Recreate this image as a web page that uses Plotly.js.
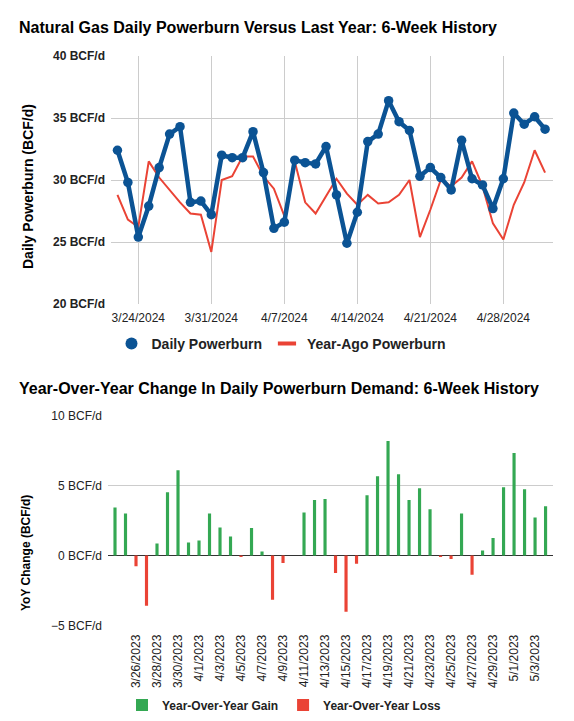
<!DOCTYPE html>
<html><head><meta charset="utf-8">
<script src="https://cdn.plot.ly/plotly-3.0.1.min.js"></script>
<style>html,body{margin:0;padding:0;background:#fff}#chart{width:574px;height:721px}</style>
</head><body><div id="chart"></div>
<script>
// ---- data ----
const dates2024 = ['2024-03-22','2024-03-23','2024-03-24','2024-03-25','2024-03-26','2024-03-27','2024-03-28','2024-03-29','2024-03-30','2024-03-31',
  '2024-04-01','2024-04-02','2024-04-03','2024-04-04','2024-04-05','2024-04-06','2024-04-07','2024-04-08','2024-04-09','2024-04-10',
  '2024-04-11','2024-04-12','2024-04-13','2024-04-14','2024-04-15','2024-04-16','2024-04-17','2024-04-18','2024-04-19','2024-04-20',
  '2024-04-21','2024-04-22','2024-04-23','2024-04-24','2024-04-25','2024-04-26','2024-04-27','2024-04-28','2024-04-29','2024-04-30',
  '2024-05-01','2024-05-02'];
const dailyPowerburn = [32.4, 29.8, 25.4, 27.9, 31.0, 33.7, 34.3, 28.2, 28.3, 27.2,
  32.0, 31.8, 31.8, 33.9, 30.6, 26.1, 26.6, 31.6, 31.4, 31.3,
  32.7, 28.8, 24.9, 27.4, 33.1, 33.7, 36.4, 34.7, 34.0, 30.3,
  31.0, 30.2, 29.2, 33.2, 30.1, 29.6, 27.7, 30.1, 35.4, 34.5,
  35.1, 34.1];
const yearAgoPowerburn = [28.8, 26.8, 26.2, 31.5, 30.2, 29.2, 28.2, 27.3, 27.2, 24.2,
  30.0, 30.3, 31.9, 31.9, 30.3, 29.3, 27.1, 31.5, 28.2, 27.3,
  28.7, 30.1, 28.9, 28.0, 28.8, 28.1, 28.2, 28.8, 30.0, 25.4,
  27.6, 30.0, 29.5, 30.2, 31.5, 29.5, 26.5, 25.2, 28.0, 29.8,
  32.4, 30.6];
const dates2023 = ['2023-03-24','2023-03-25','2023-03-26','2023-03-27','2023-03-28','2023-03-29','2023-03-30','2023-03-31',
  '2023-04-01','2023-04-02','2023-04-03','2023-04-04','2023-04-05','2023-04-06','2023-04-07','2023-04-08','2023-04-09','2023-04-10',
  '2023-04-11','2023-04-12','2023-04-13','2023-04-14','2023-04-15','2023-04-16','2023-04-17','2023-04-18','2023-04-19','2023-04-20',
  '2023-04-21','2023-04-22','2023-04-23','2023-04-24','2023-04-25','2023-04-26','2023-04-27','2023-04-28','2023-04-29','2023-04-30',
  '2023-05-01','2023-05-02','2023-05-03','2023-05-04'];
const yoyChange = [3.45, 3.02, -0.77, -3.6, 0.86, 4.53, 6.12, 0.94, 1.08, 3.02,
  2.01, 1.37, -0.1, 1.97, 0.29, -3.17, -0.53, 0, 3.09, 3.98,
  4.05, -1.25, -4.03, -0.58, 4.32, 5.68, 8.2, 5.83, 3.98, 4.82,
  3.31, -0.1, -0.24, 3.02, -1.37, 0.36, 1.25, 4.89, 7.34, 4.75,
  2.73, 3.53];
const topTickDates = ['2024-03-24','2024-03-31','2024-04-07','2024-04-14','2024-04-21','2024-04-28'];
const bottomTickDates = ['2023-03-26','2023-03-28','2023-03-30','2023-04-01','2023-04-03','2023-04-05','2023-04-07',
  '2023-04-09','2023-04-11','2023-04-13','2023-04-15','2023-04-17','2023-04-19','2023-04-21','2023-04-23',
  '2023-04-25','2023-04-27','2023-04-29','2023-05-01','2023-05-03'];
const seriesNames = ['Daily Powerburn', 'Year-Ago Powerburn', 'Year-Over-Year Gain', 'Year-Over-Year Loss'];
const titles = ['Natural Gas Daily Powerburn Versus Last Year: 6-Week History',
  'Year-Over-Year Change In Daily Powerburn Demand: 6-Week History'];
const axisTitles = ['Daily Powerburn (BCF/d)', 'YoY Change (BCF/d)'];

// ---- style ----
const W = 574, H = 721;
const px = v => v / W, py = v => 1 - v / H;
const FONT = 'Liberation Sans, Arial, sans-serif';
const BLUE = '#0b5394', RED = '#ea4335', GREEN = '#34a853';
const DAY = 86400000;

const traces = [
  {x: dates2024, y: yearAgoPowerburn, type: 'scatter', mode: 'lines', name: seriesNames[1],
   line: {color: RED, width: 2}, showlegend: false, xaxis: 'x', yaxis: 'y'},
  {x: dates2024, y: dailyPowerburn, type: 'scatter', mode: 'lines+markers', name: seriesNames[0],
   line: {color: BLUE, width: 4.5}, marker: {color: BLUE, size: 9.5}, showlegend: false, xaxis: 'x', yaxis: 'y'},
  // legend entries (no data)
  {x: [null], y: [null], type: 'scatter', mode: 'markers', name: seriesNames[0],
   marker: {color: BLUE, size: 12, symbol: 'circle'}, xaxis: 'x', yaxis: 'y', legend: 'legend'},
  {x: [null], y: [null], type: 'scatter', mode: 'markers', name: seriesNames[1],
   marker: {color: RED, size: 13, symbol: 'line-ew', line: {color: RED, width: 4}}, xaxis: 'x', yaxis: 'y', legend: 'legend'},
  {x: dates2023, y: yoyChange.map(v => v > 0 ? v : null), type: 'bar', name: seriesNames[2],
   marker: {color: GREEN}, width: 0.3 * DAY, xaxis: 'x2', yaxis: 'y2', legend: 'legend2'},
  {x: dates2023, y: yoyChange.map(v => v < 0 ? v : null), type: 'bar', name: seriesNames[3],
   marker: {color: RED}, width: 0.3 * DAY, xaxis: 'x2', yaxis: 'y2', legend: 'legend2'}
];

const layout = {
  width: W, height: H,
  margin: {l: 0, r: 0, t: 0, b: 0},
  paper_bgcolor: '#fff', plot_bgcolor: '#fff',
  font: {family: FONT, color: '#222'},
  barmode: 'overlay',
  xaxis: {
    domain: [px(111), px(553)], anchor: 'y', type: 'date',
    range: ['2024-03-21 09:10', '2024-05-02 18:15'],
    tickmode: 'array', tickvals: topTickDates, tickformat: '%-m/%-d/%Y',
    showgrid: true, gridcolor: '#cccccc', gridwidth: 1, zeroline: false, showline: false,
    ticks: '', ticklabelstandoff: 5, tickfont: {size: 12, color: '#222'}, automargin: false
  },
  yaxis: {
    domain: [py(304), py(56)], anchor: 'x', range: [20, 40], dtick: 5,
    ticksuffix: ' BCF/d', showgrid: true, gridcolor: '#cccccc', zeroline: false, showline: false,
    ticks: '', ticklabelstandoff: 5, tickfont: {size: 12, color: '#222', weight: 'bold'}, automargin: false
  },
  xaxis2: {
    domain: [px(108), px(553)], anchor: 'y2', type: 'date',
    range: ['2023-03-23 08:00', '2023-05-04 17:00'],
    tickmode: 'array', tickvals: bottomTickDates, tickformat: '%-m/%-d/%Y', tickangle: -90,
    showgrid: false, zeroline: false, showline: false,
    ticks: '', ticklabelstandoff: 6, tickfont: {size: 12, color: '#222'}, automargin: false
  },
  yaxis2: {
    domain: [py(625.3), py(416)], anchor: 'x2', range: [-5, 10], dtick: 5,
    ticksuffix: ' BCF/d', showgrid: true, gridcolor: '#cccccc',
    zeroline: true, zerolinecolor: '#333333', zerolinewidth: 1.5, showline: false,
    ticks: '', ticklabelstandoff: 5, tickfont: {size: 12, color: '#222'}, automargin: false
  },
  legend: {
    orientation: 'h', x: px(281), xanchor: 'center', y: py(344), yanchor: 'middle',
    font: {size: 14, weight: 'bold', color: '#222'}, bgcolor: 'rgba(0,0,0,0)', traceorder: 'normal'
  },
  legend2: {
    orientation: 'h', x: px(284), xanchor: 'center', y: py(705), yanchor: 'middle',
    font: {size: 12, weight: 'bold', color: '#222'}, bgcolor: 'rgba(0,0,0,0)', traceorder: 'normal'
  },
  annotations: [
    {text: titles[0], xref: 'paper', yref: 'paper', x: px(17), y: py(28), xanchor: 'left', yanchor: 'middle',
     showarrow: false, font: {size: 16, weight: 'bold', color: '#000'}},
    {text: titles[1], xref: 'paper', yref: 'paper', x: px(17), y: py(388), xanchor: 'left', yanchor: 'middle',
     showarrow: false, font: {size: 16, weight: 'bold', color: '#000'}},
    {text: axisTitles[0], xref: 'paper', yref: 'paper', x: px(28), y: py(187), xanchor: 'center', yanchor: 'middle',
     textangle: -90, showarrow: false, font: {size: 14, weight: 'bold', color: '#000'}},
    {text: axisTitles[1], xref: 'paper', yref: 'paper', x: px(26), y: py(553), xanchor: 'center', yanchor: 'middle',
     textangle: -90, showarrow: false, font: {size: 12, weight: 'bold', color: '#000'}}
  ],
  hovermode: false
};

Plotly.newPlot('chart', traces, layout, {displayModeBar: false, staticPlot: true});
</script>
</body></html>
